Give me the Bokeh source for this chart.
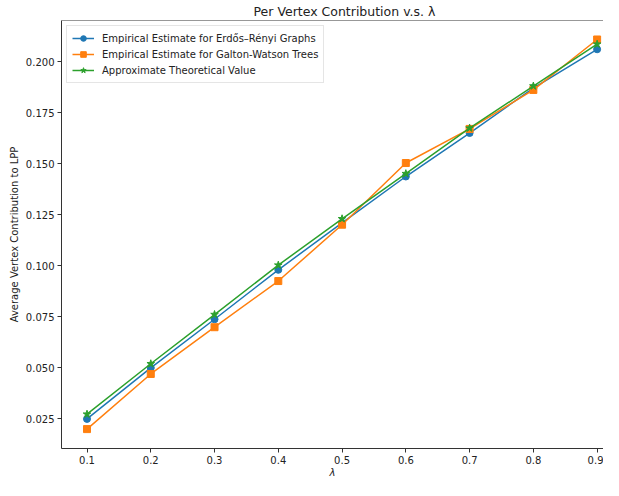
from bokeh.plotting import figure
from bokeh.models import Range1d, FixedTicker, NumeralTickFormatter, Legend, LegendItem, Span
from bokeh.embed import file_html
from bokeh.resources import INLINE

# Data
lam = [0.1, 0.2, 0.3, 0.4, 0.5, 0.6, 0.7, 0.8, 0.9]
er_values = [0.025, 0.050, 0.0738, 0.098, 0.121, 0.1437, 0.165, 0.187, 0.206]
gw_values = [0.020, 0.047, 0.0699, 0.0925, 0.1201, 0.1503, 0.167, 0.1861, 0.2108]
theory_values = [0.0273, 0.052, 0.0761, 0.1003, 0.123, 0.1451, 0.1674, 0.188, 0.2085]

x_ticks = [0.1, 0.2, 0.3, 0.4, 0.5, 0.6, 0.7, 0.8, 0.9]
y_ticks = [0.025, 0.050, 0.075, 0.100, 0.125, 0.150, 0.175, 0.200]

labels = [
    "Empirical Estimate for Erdős–Rényi Graphs",
    "Empirical Estimate for Galton-Watson Trees",
    "Approximate Theoretical Value",
]
colors = ["#1f77b4", "#ff7f0e", "#2ca02c"]

FONT = "DejaVu Sans"
TXT = "#222222"

p = figure(
    width=603, height=480,
    x_range=Range1d(0.06, 0.91), y_range=Range1d(0.0105, 0.2201),
    output_backend="svg", toolbar_location=None,
    min_border_left=61, min_border_right=0, min_border_top=0, min_border_bottom=0,
)
p.background_fill_color = "white"
p.border_fill_color = "white"
p.outline_line_color = None
p.grid.visible = False

p.title.text = "Per Vertex Contribution v.s. λ"
p.title.text_font = FONT
p.title.text_font_size = "12.5px"
p.title.text_font_style = "normal"
p.title.text_color = TXT
p.title.align = "left"
p.title.offset = 192
p.title.standoff = 3

for ax in (p.xaxis[0], p.yaxis[0]):
    ax.axis_line_color = "#333333"
    ax.axis_line_width = 1
    ax.major_tick_line_color = "#333333"
    ax.major_tick_in = 0
    ax.major_tick_out = 4
    ax.minor_tick_line_color = None
    ax.major_label_text_font = FONT
    ax.major_label_text_font_size = "10px"
    ax.major_label_text_color = TXT
    ax.axis_label_text_font = FONT
    ax.axis_label_text_font_size = "10px"
    ax.axis_label_text_color = TXT
    ax.major_label_standoff = 3

p.xaxis.ticker = FixedTicker(ticks=x_ticks)
p.xaxis.formatter = NumeralTickFormatter(format="0.0")
p.xaxis.axis_label = "λ"
p.xaxis.axis_label_text_font_style = "italic"
p.xaxis.axis_label_standoff = 0

p.yaxis.ticker = FixedTicker(ticks=y_ticks)
p.yaxis.formatter = NumeralTickFormatter(format="0.000")
p.yaxis.axis_label = "Average Vertex Contribution to LPP"
p.yaxis.axis_label_text_font_style = "normal"
p.yaxis.axis_label_standoff = 3

# top spine
p.add_layout(Span(location=0.2201, dimension="width", line_color="#333333", line_width=1))

r1 = p.line(lam, er_values, line_color=colors[0], line_width=1.5)
m1 = p.scatter(lam, er_values, marker="circle", size=7, fill_color=colors[0], line_color=colors[0])
r2 = p.line(lam, gw_values, line_color=colors[1], line_width=1.5)
m2 = p.scatter(lam, gw_values, marker="square", size=7, fill_color=colors[1], line_color=colors[1])
r3 = p.line(lam, theory_values, line_color=colors[2], line_width=1.5)
m3 = p.scatter(lam, theory_values, marker="star", size=8, fill_color=colors[2], line_color=colors[2])

legend = Legend(
    items=[
        LegendItem(label=labels[0], renderers=[r1, m1]),
        LegendItem(label=labels[1], renderers=[r2, m2]),
        LegendItem(label=labels[2], renderers=[r3, m3]),
    ],
    location="top_left",
    margin=5,
    padding=5,
    spacing=2,
    glyph_width=22,
    glyph_height=14,
    label_height=14,
    label_text_font=FONT,
    label_text_font_size="10px",
    label_text_color=TXT,
    label_standoff=8,
    border_line_color="#cccccc",
    border_line_width=1,
    background_fill_color="white",
    background_fill_alpha=0.8,
)
p.add_layout(legend)

open("out.html", "w").write(file_html(p, INLINE))
